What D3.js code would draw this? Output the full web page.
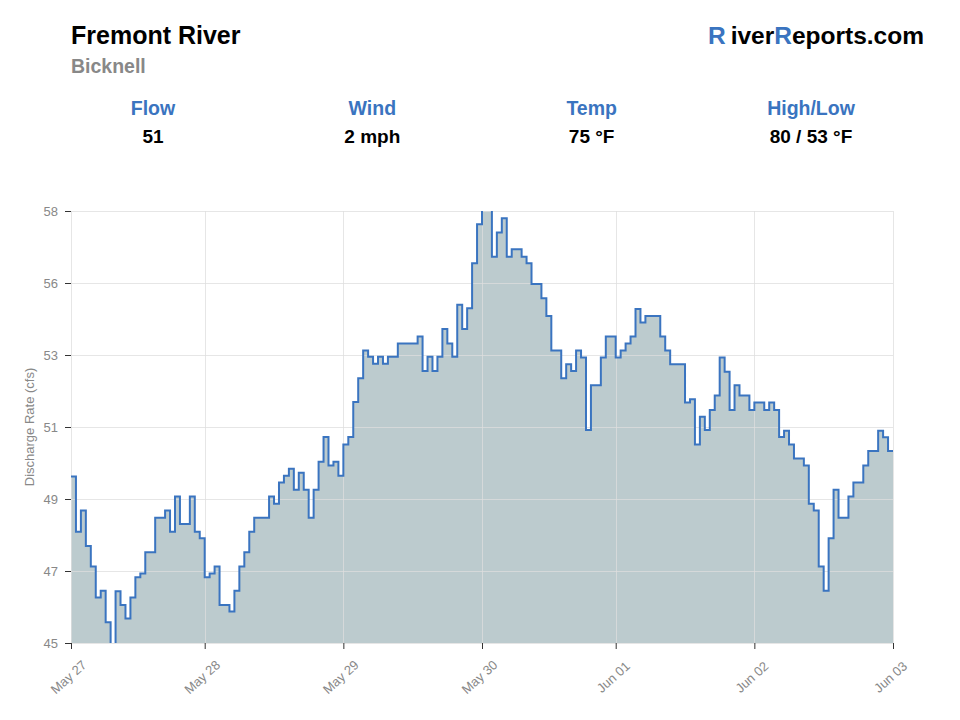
<!DOCTYPE html>
<html>
<head>
<meta charset="utf-8">
<script src="https://cdn.jsdelivr.net/npm/d3@7"></script>
<style>
  html, body { margin: 0; padding: 0; background: #fff; }
  svg { display: block; font-family: "Liberation Sans", Arial, Helvetica, sans-serif; }
</style>
</head>
<body>
<svg id="chart" width="960" height="720"></svg>
<script>
// ---- data ----
const flowValues = [
  49.88, 48.26, 48.88, 47.84, 47.24, 46.33, 46.53, 45.61, 44.90, 46.52,
  46.11, 45.72, 46.33, 46.93, 47.04, 47.66, 47.66, 48.67, 48.67, 48.88,
  48.26, 49.29, 48.49, 48.49, 49.29, 48.26, 48.07, 46.93, 47.04, 47.24,
  46.11, 46.11, 45.92, 46.53, 47.24, 47.66, 48.26, 48.67, 48.67, 48.67,
  49.29, 49.08, 49.70, 49.90, 50.11, 49.49, 49.99, 49.49, 48.67, 49.49,
  50.31, 51.04, 50.20, 50.31, 49.90, 50.82, 51.04, 52.06, 52.76, 53.57,
  53.39, 53.18, 53.39, 53.18, 53.39, 53.39, 53.78, 53.78, 53.78, 53.78,
  53.98, 52.97, 53.39, 52.97, 53.39, 54.20, 53.78, 53.39, 54.91, 54.20,
  54.81, 56.13, 57.27, 57.95, 57.95, 56.32, 57.03, 57.45, 56.32, 56.54,
  56.54, 56.32, 56.13, 55.52, 55.52, 55.10, 54.58, 53.57, 53.57, 52.76,
  53.17, 52.97, 53.57, 53.37, 51.24, 52.55, 52.55, 53.37, 53.98, 53.98,
  53.37, 53.57, 53.78, 53.98, 54.79, 54.39, 54.58, 54.58, 54.58, 53.98,
  53.57, 53.17, 53.17, 53.17, 52.05, 52.14, 50.82, 51.63, 51.24, 51.83,
  52.25, 53.37, 52.95, 51.83, 52.55, 52.25, 52.25, 51.83, 52.05, 52.05,
  51.83, 52.05, 51.83, 51.04, 51.22, 50.82, 50.41, 50.41, 50.20, 49.08,
  48.88, 47.24, 46.53, 48.07, 49.49, 48.67, 48.67, 49.29, 49.70, 49.70,
  50.20, 50.63, 50.63, 51.22, 51.03, 50.63, 50.63
];
const xTickIndex = [0, 27, 55, 83, 110, 138, 166];
const xTickLabels = ["May 27", "May 28", "May 29", "May 30", "Jun 01", "Jun 02", "Jun 03"];
const yTicks = [45, 47.11, 49.22, 51.33, 53.44, 55.55, 57.66];
const yDomain = [45, 57.66];
const statLabels = ["Flow", "Wind", "Temp", "High/Low"];
const statValues = ["51", "2 mph", "75 °F", "80 / 53 °F"];

// ---- layout ----
const svg = d3.select("#chart");
const pL = 71, pR = 893, pT = 211, pB = 643;
const blue = "#3a74c0";

const x = d3.scaleLinear().domain([0, flowValues.length - 1]).range([pL, pR]);
const y = d3.scaleLinear().domain(yDomain).range([pB, pT]);

// header
svg.append("text").attr("x", 71).attr("y", 44).attr("font-size", 25).attr("font-weight", "bold")
  .attr("fill", "#000").text("Fremont River");
svg.append("text").attr("x", 71).attr("y", 73).attr("font-size", 19.5).attr("font-weight", "bold")
  .attr("fill", "#888").text("Bicknell");
const brand = svg.append("text").attr("x", 924).attr("y", 44).attr("font-size", 24.5)
  .attr("font-weight", "bold").attr("text-anchor", "end").attr("fill", "#000");
brand.append("tspan").attr("fill", blue).text("R");
brand.append("tspan").attr("dx", 5).text("iver");
brand.append("tspan").attr("fill", blue).text("R");
brand.append("tspan").text("eports.com");

const statX = d3.scalePoint().domain(statLabels).range([153, 811]);
statLabels.forEach((lab, i) => {
  svg.append("text").attr("x", statX(lab)).attr("y", 115).attr("text-anchor", "middle")
    .attr("font-size", 19.5).attr("font-weight", "bold").attr("fill", blue).text(lab);
  svg.append("text").attr("x", statX(lab)).attr("y", 143).attr("text-anchor", "middle")
    .attr("font-size", 19).attr("font-weight", "bold").attr("fill", "#000").text(statValues[i]);
});

// clip
svg.append("clipPath").attr("id", "plotclip").append("rect")
  .attr("x", pL).attr("y", pT).attr("width", pR - pL).attr("height", pB - pT);

// area fill
const area = d3.area().curve(d3.curveStepAfter)
  .x((d, i) => x(i)).y0(y(yDomain[0])).y1(d => y(d));
svg.append("path").datum(flowValues).attr("clip-path", "url(#plotclip)")
  .attr("d", area).attr("fill", "#bccbce");

// gridlines drawn over fill, light
const gridTop = svg.append("g").attr("stroke", "rgba(222,222,222,0.75)").attr("stroke-width", 1);
yTicks.forEach(t => {
  gridTop.append("line").attr("x1", pL).attr("x2", pR)
    .attr("y1", Math.round(y(t)) + 0.5).attr("y2", Math.round(y(t)) + 0.5);
});
xTickIndex.forEach(t => {
  gridTop.append("line").attr("y1", pT).attr("y2", pB)
    .attr("x1", Math.round(x(t)) + 0.5).attr("x2", Math.round(x(t)) + 0.5);
});

// step line
const line = d3.line().curve(d3.curveStepAfter).x((d, i) => x(i)).y(d => y(d));
svg.append("path").datum(flowValues).attr("clip-path", "url(#plotclip)")
  .attr("d", line).attr("fill", "none").attr("stroke", "#3a74c0").attr("stroke-width", 2)
  .attr("stroke-linejoin", "miter");

// axes
const yAxis = svg.append("g").attr("transform", `translate(${pL},0)`)
  .call(d3.axisLeft(y).tickValues(yTicks).tickFormat(d3.format(".0f")).tickSize(6).tickPadding(7));
yAxis.select(".domain").remove();
yAxis.selectAll(".tick line").attr("stroke", "#333");
yAxis.selectAll(".tick text").attr("fill", "#888").attr("font-size", 13)
  .attr("font-family", "'Liberation Sans', Arial, sans-serif");

const xAxis = svg.append("g").attr("transform", `translate(0,${pB})`)
  .call(d3.axisBottom(x).tickValues(xTickIndex).tickFormat((d, i) => xTickLabels[i]).tickSize(6));
xAxis.select(".domain").remove();
xAxis.selectAll(".tick line").attr("stroke", "#333");
xAxis.selectAll(".tick text").attr("fill", "#888").attr("font-size", 13)
  .attr("font-family", "'Liberation Sans', Arial, sans-serif")
  .attr("text-anchor", "middle").attr("dy", "0.35em").attr("y", 0)
  .attr("transform", "translate(-3,34) rotate(-42)");

// y axis title
svg.append("text").attr("transform", `translate(34,${(pT + pB) / 2}) rotate(-90)`)
  .attr("text-anchor", "middle").attr("font-size", 13).attr("fill", "#888")
  .text("Discharge Rate (cfs)");
</script>
</body>
</html>
